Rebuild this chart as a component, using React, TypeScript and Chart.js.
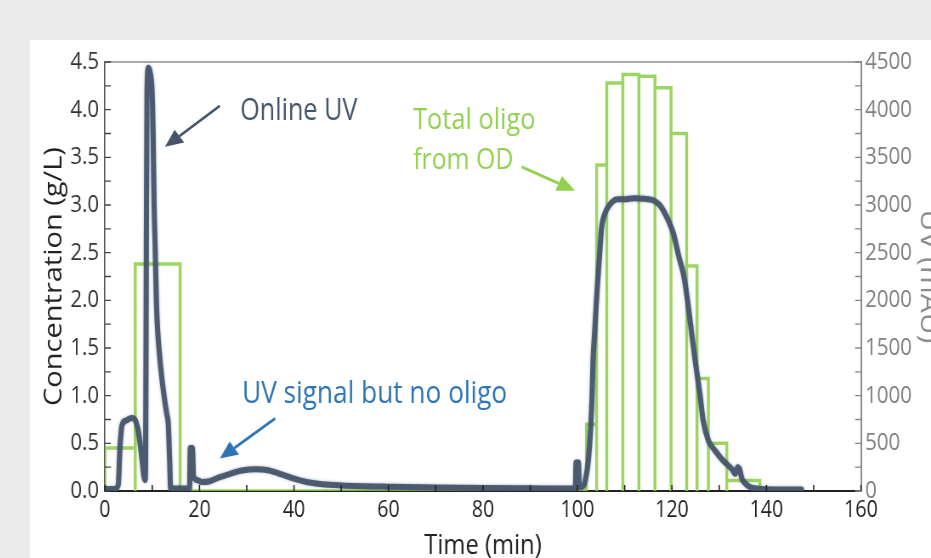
import React, { useEffect, useRef } from "react";
import { Chart, registerables } from "chart.js";

Chart.register(...registerables);

// ---------------- data ----------------
// Online UV trace (time in min, signal in mAU)
const uvTime = [
  0, 2.0, 2.8, 3.2, 3.6, 4.5, 5.6, 6.4, 7.0, 7.5,
  7.9, 8.25, 8.5, 8.6, 8.75, 8.9, 9.2, 9.6, 10.0, 10.2,
  10.4, 10.6, 10.9, 11.6, 12.5, 13.1, 13.4, 13.7, 13.9, 17.9,
  18.05, 18.5, 18.75, 19.5, 20.5, 22.0, 24.0, 26.5, 29.0, 32.0,
  34.5, 37.0, 40.0, 42.7, 46.0, 50.0, 60.0, 70.0, 80.0, 90.0,
  99.55, 99.7, 100.2, 100.4, 101.2, 101.8, 102.3, 102.8, 103.1, 103.3,
  103.7, 104.1, 104.6, 105.1, 105.8, 106.5, 107.5, 108.6, 110, 112,
  114, 116, 117.2, 118.2, 119.3, 120.3, 121.5, 122.4, 123.1, 124.0,
  124.9, 125.9, 126.6, 127.7, 129.1, 130.8, 132.6, 133.4, 133.9, 134.3,
  134.8, 135.3, 136.5, 138.6, 147.4,
];
const uvSignal = [
  20, 20, 60, 480, 690, 740, 765, 745, 640, 470,
  300, 150, 115, 300, 2500, 4200, 4440, 4380, 4150, 3700,
  3000, 2600, 1950, 1400, 1000, 800, 700, 300, 25, 25,
  450, 450, 150, 115, 95, 100, 140, 180, 215, 228,
  218, 180, 130, 95, 70, 58, 45, 38, 32, 28,
  25, 300, 300, 40, 50, 150, 320, 670, 1020, 1370,
  1720, 2070, 2420, 2760, 2910, 2980, 3040, 3060, 3060, 3070,
  3065, 3050, 3010, 2940, 2830, 2700, 2450, 2280, 2070, 1720,
  1370, 1020, 740, 530, 425, 320, 234, 180, 250, 230,
  130, 90, 41, 22, 15,
];

// Total oligo from OD: fraction boundaries (min) and concentration (g/L)
const fractionEdges = [0, 6.4, 15.9, 101.9, 104.05, 106.2, 109.6, 113.0, 116.4, 119.8, 123.1, 125.3, 127.7, 131.6, 138.6];
const fractionConc = [0.45, 2.38, 0, 0.7, 3.42, 4.28, 4.37, 4.35, 4.23, 3.75, 2.36, 1.18, 0.5, 0.11];

// axes
const xTicks = [0, 20, 40, 60, 80, 100, 120, 140, 160];
const xTickLabels = ["0", "20", "40", "60", "80", "100", "120", "140", "160"];
const concTicks = [0, 0.5, 1, 1.5, 2, 2.5, 3, 3.5, 4, 4.5];
const concTickLabels = ["0.0", "0.5", "1.0", "1.5", "2.0", "2.5", "3.0", "3.5", "4.0", "4.5"];
const uvTicks = [0, 500, 1000, 1500, 2000, 2500, 3000, 3500, 4000, 4500];
const uvTickLabels = ["0", "500", "1000", "1500", "2000", "2500", "3000", "3500", "4000", "4500"];

// annotations (anchors in data units: x = min, y = g/L)
const noteTexts = ["Online UV", "Total oligo", "from OD", "UV signal but no oligo"];
const noteX = [28.6, 65.2, 65.2, 29.0];
const noteY = [3.89, 3.8, 3.38, 0.92];
const arrowFromX = [24.3, 88.2, 36.0];
const arrowFromY = [4.04, 3.4, 0.76];
const arrowToX = [12.7, 99.5, 24.3];
const arrowToY = [3.61, 3.15, 0.34];

// ---------------- styling / layout ----------------
const S = 0.85; // horizontal squeeze of the whole figure
const CANVAS_W = 1100;
const CANVAS_H = 531;
const FONT = "'Open Sans', 'Noto Sans', sans-serif";
const SLATE = "#44546A";
const GREEN = "#92D050";
const BLUE = "#2E75B6";
const noteColors = [SLATE, GREEN, GREEN, BLUE];
const noteSizes = [31, 30, 30, 31];
const noteMaxW = [138, 144, 118, 312];
const arrowColors = [SLATE, GREEN, BLUE];

const decorPlugin = {
  id: "decor",
  afterDraw(chart: any) {
    const { ctx, chartArea: a, scales } = chart;
    const xs = scales.x, ys = scales.y, y1 = scales.y1;
    ctx.save();
    // top frame line
    ctx.strokeStyle = "#8c8c8c";
    ctx.lineWidth = 1.6;
    ctx.beginPath();
    ctx.moveTo(a.left, a.top);
    ctx.lineTo(a.right, a.top);
    ctx.stroke();

    // inward tick marks
    ctx.strokeStyle = "#222";
    ctx.lineWidth = 1.6;
    ctx.beginPath();
    for (let v = 0; v <= 160; v += 10) {
      const px = xs.getPixelForValue(v);
      ctx.moveTo(px, a.bottom);
      ctx.lineTo(px, a.bottom - 6);
    }
    ctx.stroke();
    ctx.strokeStyle = "#444";
    ctx.lineWidth = 1.4;
    ctx.beginPath();
    for (let v = 0; v <= 4.5 + 1e-9; v += 0.25) {
      const py = ys.getPixelForValue(v);
      ctx.moveTo(a.left, py);
      ctx.lineTo(a.left + 7, py);
    }
    ctx.stroke();
    ctx.strokeStyle = "#888";
    ctx.beginPath();
    for (let v = 0; v <= 4500; v += 250) {
      const py = y1.getPixelForValue(v);
      ctx.moveTo(a.right, py);
      ctx.lineTo(a.right - 7, py);
    }
    ctx.stroke();

    // arrows (head computed in on-screen proportions)
    const HEAD = 18, HW = 8;
    for (let i = 0; i < arrowColors.length; i++) {
      const x1 = xs.getPixelForValue(arrowFromX[i]);
      const yA = ys.getPixelForValue(arrowFromY[i]);
      const x2 = xs.getPixelForValue(arrowToX[i]);
      const yB = ys.getPixelForValue(arrowToY[i]);
      const dx = (x2 - x1) * S, dy = yB - yA;
      const len = Math.hypot(dx, dy);
      const ux = dx / len, uy = dy / len;
      const bx = x2 * S - ux * HEAD, by = yB - uy * HEAD;
      const px = -uy, py = ux;
      ctx.strokeStyle = arrowColors[i];
      ctx.fillStyle = arrowColors[i];
      ctx.lineWidth = 2.8;
      ctx.beginPath();
      ctx.moveTo(x1, yA);
      ctx.lineTo(bx / S, by);
      ctx.stroke();
      ctx.beginPath();
      ctx.moveTo(x2, yB);
      ctx.lineTo((bx + px * HW) / S, by + py * HW);
      ctx.lineTo((bx - px * HW) / S, by - py * HW);
      ctx.closePath();
      ctx.fill();
    }

    // annotation texts
    ctx.textAlign = "left";
    ctx.textBaseline = "alphabetic";
    for (let i = 0; i < noteTexts.length; i++) {
      ctx.font = `${noteSizes[i]}px ${FONT}`;
      ctx.fillStyle = noteColors[i];
      ctx.fillText(noteTexts[i], xs.getPixelForValue(noteX[i]), ys.getPixelForValue(noteY[i]), noteMaxW[i]);
    }
    ctx.restore();
  },
};

const glowPlugin = {
  id: "uvGlow",
  beforeDatasetDraw(chart: any, args: any) {
    if (args.index === 0) {
      chart.ctx.save();
      chart.ctx.shadowColor = "rgba(68,84,106,0.55)";
      chart.ctx.shadowBlur = 3;
    }
  },
  afterDatasetDraw(chart: any, args: any) {
    if (args.index === 0) chart.ctx.restore();
  },
};

export default function App() {
  const ref = useRef<HTMLCanvasElement>(null);

  useEffect(() => {
    const canvas = ref.current;
    if (!canvas) return;

    const uvPoints = uvTime.map((t, i) => ({ x: t, y: uvSignal[i] }));
    const oligoPoints: { x: number; y: number }[] = [{ x: fractionEdges[0], y: 0 }];
    for (let i = 0; i < fractionConc.length; i++) {
      oligoPoints.push({ x: fractionEdges[i], y: fractionConc[i] });
      oligoPoints.push({ x: fractionEdges[i + 1], y: fractionConc[i] });
      oligoPoints.push({ x: fractionEdges[i + 1], y: 0 });
    }

    const chart = new Chart(canvas, {
      type: "line",
      data: {
        datasets: [
          {
            label: "Online UV",
            data: uvPoints,
            yAxisID: "y1",
            borderColor: "rgba(68,84,106,0.92)",
            borderWidth: 6,
            pointRadius: 0,
            cubicInterpolationMode: "monotone",
            borderJoinStyle: "round",
            borderCapStyle: "round",
            order: 0,
          },
          {
            label: "Total oligo from OD",
            data: oligoPoints,
            yAxisID: "y",
            borderColor: "rgba(138,207,72,0.85)",
            borderWidth: 3.5,
            pointRadius: 0,
            tension: 0,
            order: 1,
          },
        ],
      },
      plugins: [glowPlugin, decorPlugin],
      options: {
        responsive: false,
        animation: false,
        devicePixelRatio: 1,
        layout: { padding: { left: 0, top: 22, right: 22.4, bottom: 0 } },
        plugins: { legend: { display: false }, tooltip: { enabled: false } },
        scales: {
          x: {
            type: "linear",
            position: "bottom",
            min: 0,
            max: 160,
            afterBuildTicks: (s: any) => {
              s.ticks = xTicks.map((v) => ({ value: v }));
            },
            afterFit: (s: any) => {
              s.height = 80;
            },
            ticks: {
              autoSkip: false,
              maxRotation: 0,
              padding: 6,
              color: "#222",
              font: { family: FONT, size: 23 },
              callback: (_v: any, i: number) => xTickLabels[i],
            },
            grid: { display: false, drawTicks: false },
            border: { color: "#222", width: 2 },
            title: {
              display: true,
              text: "Time (min)",
              color: "#222",
              font: { family: FONT, size: 28 },
              padding: { top: 0, bottom: 8 },
            },
          },
          y: {
            type: "linear",
            position: "left",
            min: 0,
            max: 4.5,
            afterBuildTicks: (s: any) => {
              s.ticks = concTicks.map((v) => ({ value: v }));
            },
            afterFit: (s: any) => {
              s.width = 88.2;
            },
            ticks: {
              autoSkip: false,
              padding: 7,
              color: "#333",
              font: { family: FONT, size: 24 },
              callback: (_v: any, i: number) => concTickLabels[i],
            },
            grid: { display: false, drawTicks: false },
            border: { color: "#555", width: 1.6 },
            title: {
              display: true,
              text: "Concentration (g/L)",
              color: "#222",
              font: { family: FONT, size: 29 },
              padding: { top: 11, bottom: 0 },
            },
          },
          y1: {
            type: "linear",
            position: "right",
            min: 0,
            max: 4500,
            afterBuildTicks: (s: any) => {
              s.ticks = uvTicks.map((v) => ({ value: v }));
            },
            afterFit: (s: any) => {
              s.width = 100;
            },
            ticks: {
              autoSkip: false,
              padding: 5,
              color: "#808080",
              font: { family: FONT, size: 24 },
              callback: (_v: any, i: number) => uvTickLabels[i],
            },
            grid: { display: false, drawTicks: false },
            border: { color: "#8c8c8c", width: 2 },
            title: {
              display: true,
              text: "UV (mAU)",
              color: "#8c8c8c",
              font: { family: FONT, size: 30 },
              padding: { top: 3, bottom: 0 },
            },
          },
        },
      },
    } as any);

    return () => chart.destroy();
  }, []);

  return (
    <div style={{ position: "fixed", inset: 0, background: "#ebebeb", overflow: "hidden" }}>
      <div
        style={{
          position: "absolute",
          left: 30,
          top: 40,
          right: 0,
          bottom: 0,
          background: "#ffffff",
          overflow: "hidden",
        }}
      >
        <div
          style={{
            position: "absolute",
            left: 0,
            top: 0,
            width: CANVAS_W,
            height: CANVAS_H,
            transform: `scaleX(${S})`,
            transformOrigin: "0 0",
          }}
        >
          <canvas ref={ref} width={CANVAS_W} height={CANVAS_H} />
        </div>
      </div>
    </div>
  );
}
